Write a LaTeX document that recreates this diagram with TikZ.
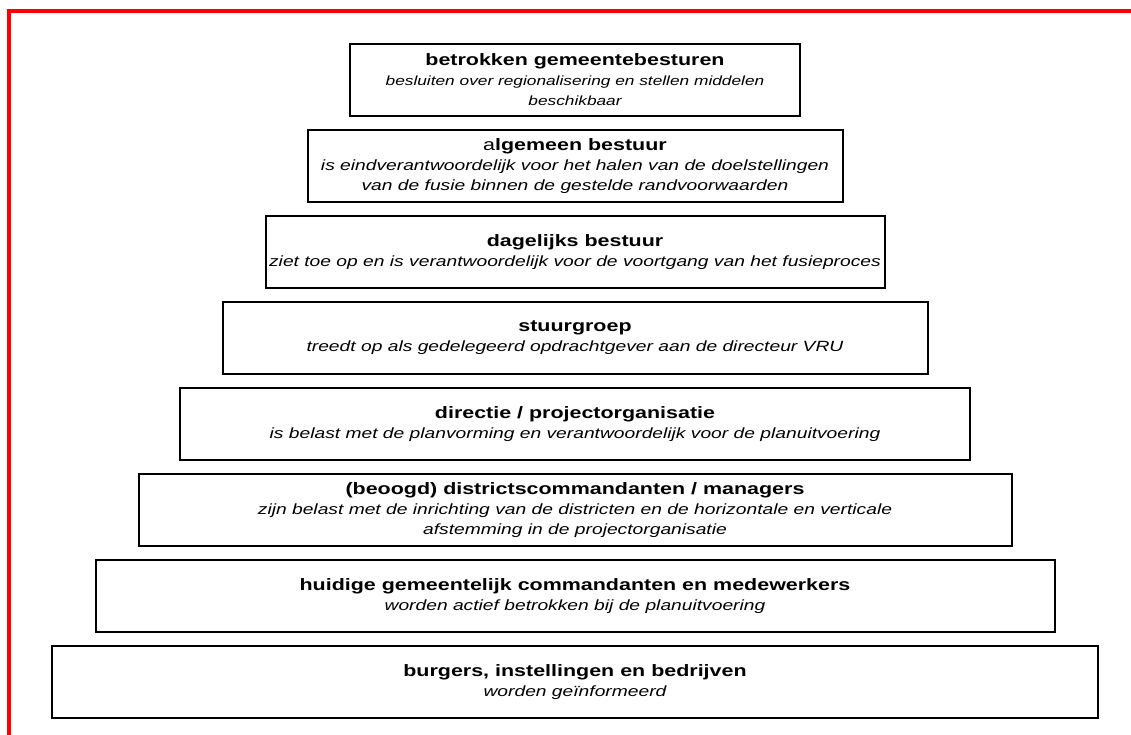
\documentclass[tikz,border=0pt]{standalone}
\usepackage{fontspec}
\setmainfont{Liberation Sans}[FakeStretch=1.3]
\usepackage{tikz}
\usetikzlibrary{positioning}
\definecolor{kaderrood}{RGB}{255,0,0}

\newcommand{\kop}[1]{{\fontsize{16.5}{20}\selectfont\bfseries #1}}
\newcommand{\oms}[1]{{\fontsize{14.8}{20}\selectfont\itshape #1}}
\newcommand{\omsklein}[1]{{\fontsize{13.3}{20}\selectfont\itshape #1}}

\begin{document}
\begin{tikzpicture}[x=1pt, y=1pt,
    laag/.style={draw, line width=2pt, minimum width=#1, minimum height=72pt, inner sep=0pt, align=center, font=\fontsize{14.8}{20}\selectfont},
]
\useasboundingbox (0,0) rectangle (1131,-735);
\draw[kaderrood, line width=4pt] (1131,-11) -- (9,-11) -- (9,-735);

\node[laag=450pt] (gemeenten) at (575,-80) {\kop{betrokken gemeentebesturen}\\ \omsklein{besluiten over regionalisering en stellen middelen}\\ \omsklein{beschikbaar}};
\node[laag=535pt, below=12pt of gemeenten] (ab) {\kop{{\mdseries a}lgemeen bestuur}\\ \oms{is eindverantwoordelijk voor het halen van de doelstellingen}\\ \oms{van de fusie binnen de gestelde randvoorwaarden}};
\node[laag=619pt, below=12pt of ab] (db) {\kop{dagelijks bestuur}\\ \oms{ziet toe op en is verantwoordelijk voor de voortgang van het fusieproces}};
\node[laag=705pt, below=12pt of db] (stuur) {\kop{stuurgroep}\\ \oms{treedt op als gedelegeerd opdrachtgever aan de directeur VRU}};
\node[laag=790pt, below=12pt of stuur] (directie) {\kop{directie / projectorganisatie}\\ \oms{is belast met de planvorming en verantwoordelijk voor de planuitvoering}};
\node[laag=873pt, below=12pt of directie] (district) {\kop{(beoogd) districtscommandanten / managers}\\ \oms{zijn belast met de inrichting van de districten en de horizontale en verticale}\\ \oms{afstemming in de projectorganisatie}};
\node[laag=959pt, below=12pt of district] (huidig) {\kop{huidige gemeentelijk commandanten en medewerkers}\\ \oms{worden actief betrokken bij de planuitvoering}};
\node[laag=1046pt, below=12pt of huidig] (burgers) {\kop{burgers, instellingen en bedrijven}\\ \oms{worden geïnformeerd}};
\end{tikzpicture}
\end{document}
